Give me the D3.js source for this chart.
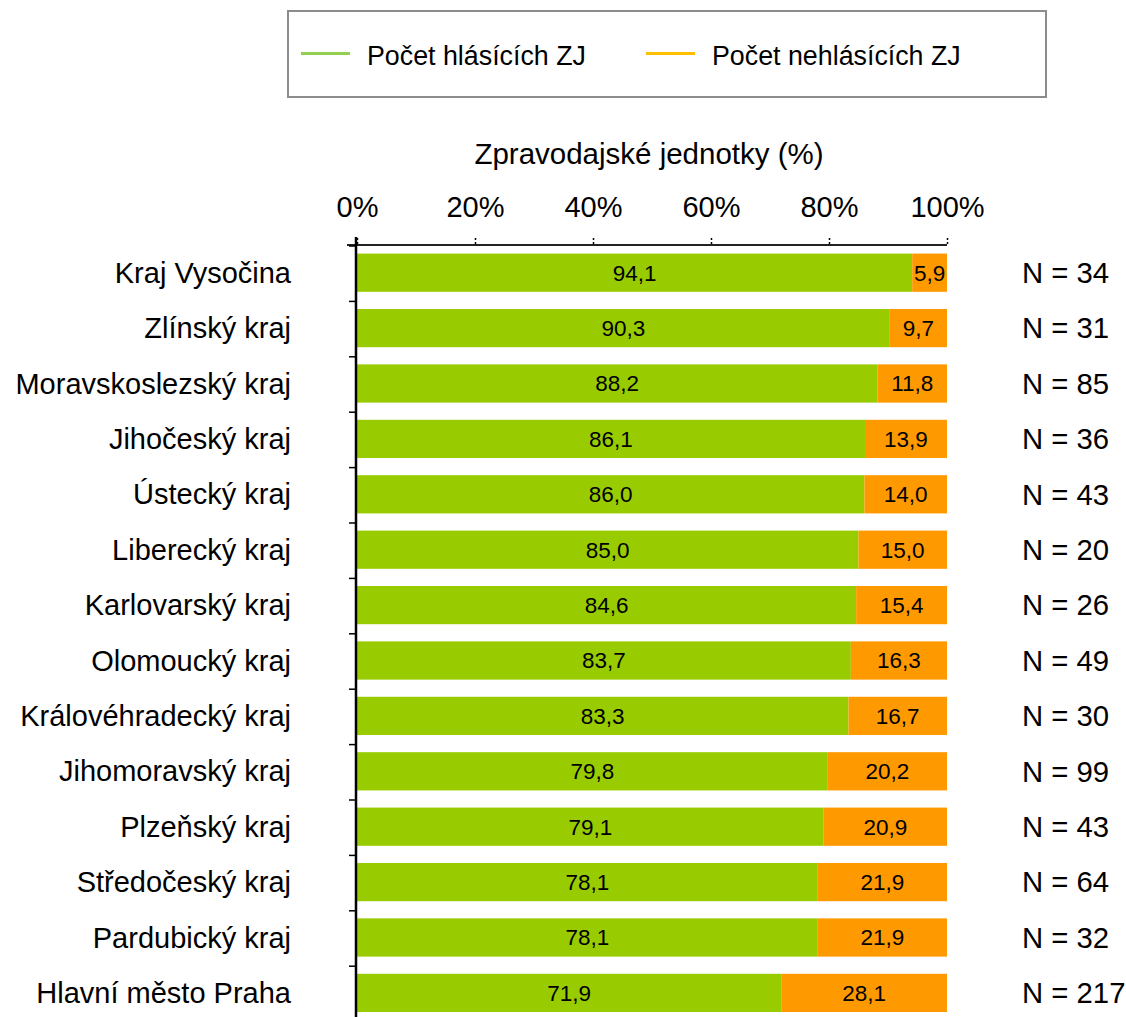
<!DOCTYPE html>
<html>
<head>
<meta charset="utf-8">
<script src="https://cdn.jsdelivr.net/npm/d3@7"></script>
<style>
  body { margin: 0; background: #fff; }
  svg { display: block; font-family: "Liberation Sans", Arial, sans-serif; }
</style>
</head>
<body>
<script>
const categories = [
  'Kraj Vysočina', 'Zlínský kraj', 'Moravskoslezský kraj', 'Jihočeský kraj',
  'Ústecký kraj', 'Liberecký kraj', 'Karlovarský kraj', 'Olomoucký kraj',
  'Královéhradecký kraj', 'Jihomoravský kraj', 'Plzeňský kraj',
  'Středočeský kraj', 'Pardubický kraj', 'Hlavní město Praha'
];
const reporting = [94.1, 90.3, 88.2, 86.1, 86.0, 85.0, 84.6, 83.7, 83.3, 79.8, 79.1, 78.1, 78.1, 71.9];
const nonReporting = [5.9, 9.7, 11.8, 13.9, 14.0, 15.0, 15.4, 16.3, 16.7, 20.2, 20.9, 21.9, 21.9, 28.1];
const counts = [34, 31, 85, 36, 43, 20, 26, 49, 30, 99, 43, 64, 32, 217];
const seriesNames = ['Počet hlásících ZJ', 'Počet nehlásících ZJ'];
const xTicks = [0, 20, 40, 60, 80, 100];

const width = 1126, height = 1017;
const green = '#99cc00', orange = '#ff9900';

const svg = d3.select('body').append('svg')
  .attr('width', width)
  .attr('height', height);

const x = d3.scaleLinear().domain([0, 100]).range([357, 947]);
const y = d3.scaleBand()
  .domain(categories)
  .range([245, 245 + 14 * 55.4])
  .paddingInner(0.31)
  .paddingOuter(0.155);

const fmt = (v) => d3.format('.1f')(v).replace('.', ',');

// Legend
const legend = svg.append('g');
legend.append('rect')
  .attr('x', 288).attr('y', 11)
  .attr('width', 758).attr('height', 86)
  .attr('fill', '#fff')
  .attr('stroke', '#8c8c8c')
  .attr('stroke-width', 2);
const legendItems = [
  { name: seriesNames[0], color: '#92d050', x: 301 },
  { name: seriesNames[1], color: '#ffc000', x: 646 }
];
legendItems.forEach((d) => {
  legend.append('line')
    .attr('x1', d.x).attr('x2', d.x + 49)
    .attr('y1', 53.5).attr('y2', 53.5)
    .attr('stroke', d.color)
    .attr('stroke-width', 3);
  legend.append('text')
    .attr('x', d.x + 66).attr('y', 65)
    .attr('font-size', 26.8)
    .text(d.name);
});

// Axis title
svg.append('text')
  .attr('x', 649)
  .attr('y', 164)
  .attr('text-anchor', 'middle')
  .attr('font-size', 29.5)
  .text('Zpravodajské jednotky (%)');

// Top axis
const axisY = 245;
const xAxis = svg.append('g')
  .attr('transform', `translate(0,${axisY})`)
  .call(d3.axisTop(x).tickValues(xTicks).tickFormat((d) => d + '%').tickSize(8).tickSizeOuter(0));
xAxis.select('.domain')
  .attr('d', `M${x(0) - 10},0H${x(100)}`)
  .attr('stroke', '#222')
  .attr('stroke-width', 2);
xAxis.selectAll('.tick line')
  .attr('y1', -1)
  .attr('y2', -8)
  .attr('stroke', '#000')
  .attr('stroke-width', 1.5)
  .attr('stroke-dasharray', '2,2');
xAxis.selectAll('.tick text')
  .attr('y', -28)
  .attr('dy', 0)
  .attr('font-size', 29)
  .attr('font-family', '"Liberation Sans", Arial, sans-serif')
  .attr('fill', '#000');

// Bars
const rows = svg.append('g')
  .selectAll('g')
  .data(categories)
  .join('g');

rows.append('rect')
  .attr('x', x(0))
  .attr('y', (d) => y(d))
  .attr('width', (d, i) => x(reporting[i]) - x(0))
  .attr('height', y.bandwidth())
  .attr('fill', green);

rows.append('rect')
  .attr('x', (d, i) => x(reporting[i]))
  .attr('y', (d) => y(d))
  .attr('width', (d, i) => x(100) - x(reporting[i]))
  .attr('height', y.bandwidth())
  .attr('fill', orange);

rows.append('text')
  .attr('x', (d, i) => (x(0) + x(reporting[i])) / 2)
  .attr('y', (d) => y(d) + y.bandwidth() / 2)
  .attr('dy', '0.35em')
  .attr('text-anchor', 'middle')
  .attr('font-size', 22.5)
  .text((d, i) => fmt(reporting[i]));

rows.append('text')
  .attr('x', (d, i) => (x(reporting[i]) + x(100)) / 2)
  .attr('y', (d) => y(d) + y.bandwidth() / 2)
  .attr('dy', '0.35em')
  .attr('text-anchor', 'middle')
  .attr('font-size', 22.5)
  .text((d, i) => fmt(nonReporting[i]));

// Category labels
rows.append('text')
  .attr('x', 291)
  .attr('y', (d) => y(d) + y.bandwidth() / 2)
  .attr('dy', '0.35em')
  .attr('text-anchor', 'end')
  .attr('font-size', 29)
  .text((d) => d);

// N labels
rows.append('text')
  .attr('x', 1022)
  .attr('y', (d) => y(d) + y.bandwidth() / 2)
  .attr('dy', '0.35em')
  .attr('font-size', 29.3)
  .text((d, i) => `N = ${counts[i]}`);

// Left axis line with ticks at row boundaries
const gap = y.step() * y.paddingInner() / 2;
svg.append('line')
  .attr('x1', x(0) - 1).attr('x2', x(0) - 1)
  .attr('y1', axisY - 8).attr('y2', y.range()[1])
  .attr('stroke', '#000')
  .attr('stroke-width', 2.5);
svg.append('g')
  .selectAll('line')
  .data(categories)
  .join('line')
  .attr('x1', x(0) - 8).attr('x2', x(0))
  .attr('y1', (d) => y(d) - gap + 1)
  .attr('y2', (d) => y(d) - gap + 1)
  .attr('stroke', '#000')
  .attr('stroke-width', 1.5);
</script>
</body>
</html>
